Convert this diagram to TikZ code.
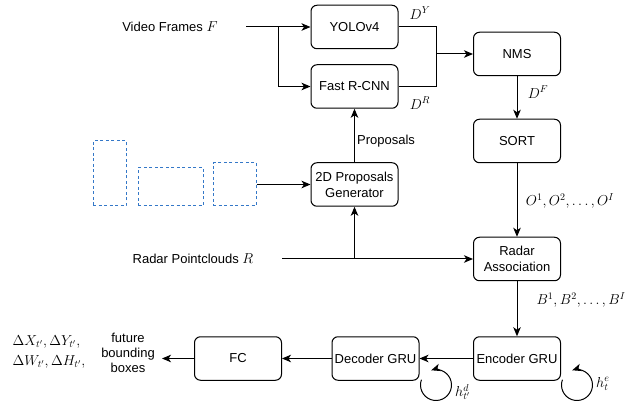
\documentclass[tikz,border=0pt]{standalone}
\usepackage{fontspec}
\setmainfont{Liberation Sans}
\usetikzlibrary{arrows.meta}
\definecolor{propblue}{RGB}{52,120,200}
\begin{document}
\begin{tikzpicture}[x=1pt,y=-1pt,
  blk/.style={draw, rounded corners=6pt, minimum width=87pt, minimum height=43.5pt, line width=1pt, align=center, font=\fontsize{13}{16}\selectfont, inner sep=1pt},
  lbl/.style={font=\fontsize{13}{15}\selectfont, align=center, inner sep=0pt},
  mlbl/.style={font=\fontsize{14.5}{20}\selectfont, align=left, inner sep=0pt},
  conn/.style={line width=1pt, -{Stealth[length=9pt,width=7.5pt,inset=2.5pt]}},
  ln/.style={line width=1pt},
  prop/.style={draw=propblue, dash pattern=on 3pt off 2.5pt, line width=1pt, inner sep=0pt}]
\useasboundingbox (0,0) rectangle (635,406);

% blocks
\node[blk] (yolo) at (354.5,27) {YOLOv4};
\node[blk] (frcnn) at (354.5,86.5) {Fast R-CNN};
\node[blk] (nms) at (517,54) {NMS};
\node[blk] (sort) at (517,141) {SORT};
\node[blk] (gen) at (354.5,184.5) {2D Proposals\\Generator};
\node[blk] (radar) at (517,259) {Radar\\Association};
\node[blk] (enc) at (517,358.5) {Encoder GRU};
\node[blk] (dec) at (375.5,358.5) {Decoder GRU};
\node[blk] (fc) at (238,358.5) {FC};

% proposal boxes
\node[prop, minimum width=33pt, minimum height=65pt] (p1) at (109.5,173.5) {};
\node[prop, minimum width=65pt, minimum height=38pt] (p2) at (170.5,187) {};
\node[prop, minimum width=43pt, minimum height=43pt] (p3) at (234.5,184.5) {};

% text labels
\node[lbl] (video) at (170,27) {Video Frames \fontsize{14.5}{15}\selectfont$F$};
\node[lbl] (radarpc) at (193,259) {Radar Pointclouds \fontsize{14.5}{15}\selectfont$R$};
\node[lbl] (props) at (386,141) {Proposals};
\node[lbl] (fut) at (128,353) {future\\bounding\\boxes};
\node[mlbl] (dy) at (420,13) {$D^Y$};
\node[mlbl] (dr) at (420,103) {$D^R$};
\node[mlbl] (df) at (538,92) {$D^F$};
\node[mlbl] (olist) at (570,201) {$O^1,O^2,\ldots,O^I$};
\node[mlbl] (blist) at (581,300) {$B^1,B^2,\ldots,B^I$};
\node[mlbl] (deltas) at (49,352) {$\Delta X_{t'},\Delta Y_{t'},$\\$\Delta W_{t'},\Delta H_{t'},$};
\node[mlbl, anchor=west] (hd) at (455,392) {$h^d_{t'}$};
\node[mlbl, anchor=west] (he) at (596,384) {$h^e_t$};

% coordinates
\coordinate (vstart) at (246,27);
\coordinate (vb) at (278,27);
\coordinate (mg) at (436,54);
\coordinate (rstart) at (282,259);
\coordinate (rb) at (354.5,259);
\coordinate (outend) at (162,358.5);
\coordinate (dloop) at (436,385);
\coordinate (eloop) at (577,385);

% connectors
\draw[conn] (vstart) -- (yolo.west);
\draw[conn] (vb) |- (frcnn.west);
\draw[ln] (yolo.east) -| (mg);
\draw[ln] (frcnn.east) -| (mg);
\draw[conn] (mg) -- (nms.west);
\draw[conn] (nms) -- (sort);
\draw[conn] (sort) -- (radar);
\draw[conn] (radar) -- (enc);
\draw[conn] (enc) -- (dec);
\draw[conn] (dec) -- (fc);
\draw[conn] (fc.west) -- (outend);
\draw[conn] (gen) -- (frcnn);
\draw[conn] (p3.east) -- (gen.west);
\draw[conn] (rstart) -- (radar.west);
\draw[conn] (rb) -- (gen.south);

% recurrent loops
\draw[conn] ([shift={(-160:15.5)}]dloop) arc[start angle=-160, end angle=-468, radius=15.5];
\draw[conn] ([shift={(-160:15.5)}]eloop) arc[start angle=-160, end angle=-468, radius=15.5];
\end{tikzpicture}
\end{document}
